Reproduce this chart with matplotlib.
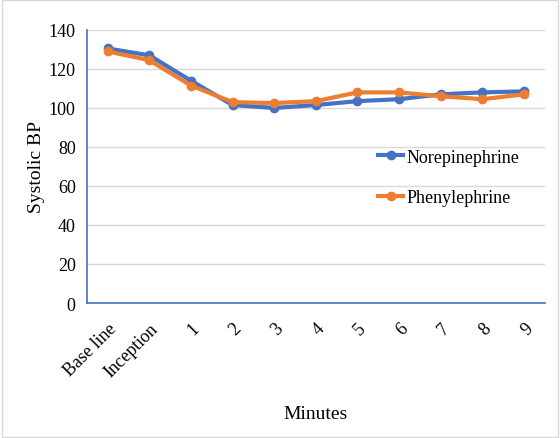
import matplotlib
matplotlib.use("Agg")
import matplotlib.pyplot as plt

categories = ["Base line", "Inception", "1", "2", "3", "4", "5", "6", "7", "8", "9"]
norepinephrine = [130.5, 127, 114, 101.5, 100, 101.5, 103.5, 104.5, 107, 108, 108.5]
phenylephrine = [129, 124.5, 111.5, 103, 102.5, 103.5, 108, 108, 106, 104.5, 107]
yticks = [0, 20, 40, 60, 80, 100, 120, 140]

plt.rcParams['font.family'] = ['Liberation Serif', 'DejaVu Serif']

fig = plt.figure(figsize=(5.6, 4.39), dpi=100)
ax = fig.add_axes([0.155, 0.3075, 0.818, 0.622])
x = list(range(len(categories)))
ax.plot(x, norepinephrine, color="#4472C4", lw=3, marker="o", ms=6, label="Norepinephrine", zorder=3)
ax.plot(x, phenylephrine, color="#ED7D31", lw=3, marker="o", ms=6, label="Phenylephrine", zorder=4)

ax.set_xlim(-0.5, len(categories) - 0.5)
ax.set_ylim(0, 140)
ax.set_yticks(yticks)
ax.set_xticks(x)
ax.set_xticklabels(categories, rotation=45, ha="right", rotation_mode="anchor", fontsize=13)
ax.tick_params(axis="y", labelsize=13, length=0, pad=8)
ax.tick_params(axis="x", length=0, pad=12)
ax.grid(axis="y", color="#d9d9d9", lw=1)
ax.set_axisbelow(True)
for s in ["top", "right"]:
    ax.spines[s].set_visible(False)
for s in ["left", "bottom"]:
    ax.spines[s].set_color("#4472C4")
    ax.spines[s].set_linewidth(1.2)

ax.set_ylabel("Systolic BP", fontsize=14, labelpad=3)
ax.set_xlabel("Minutes", fontsize=14, labelpad=18)

ax.legend(loc="center left", bbox_to_anchor=(0.6, 0.46), frameon=False, fontsize=13,
          handlelength=1.4, handletextpad=0.2, labelspacing=1.3)

fig.patches.append(plt.Rectangle((0.003, 0.003), 0.994, 0.994, transform=fig.transFigure,
                                 fill=False, edgecolor="#d9d9d9", lw=1))
fig.savefig("out.png", dpi=100)
